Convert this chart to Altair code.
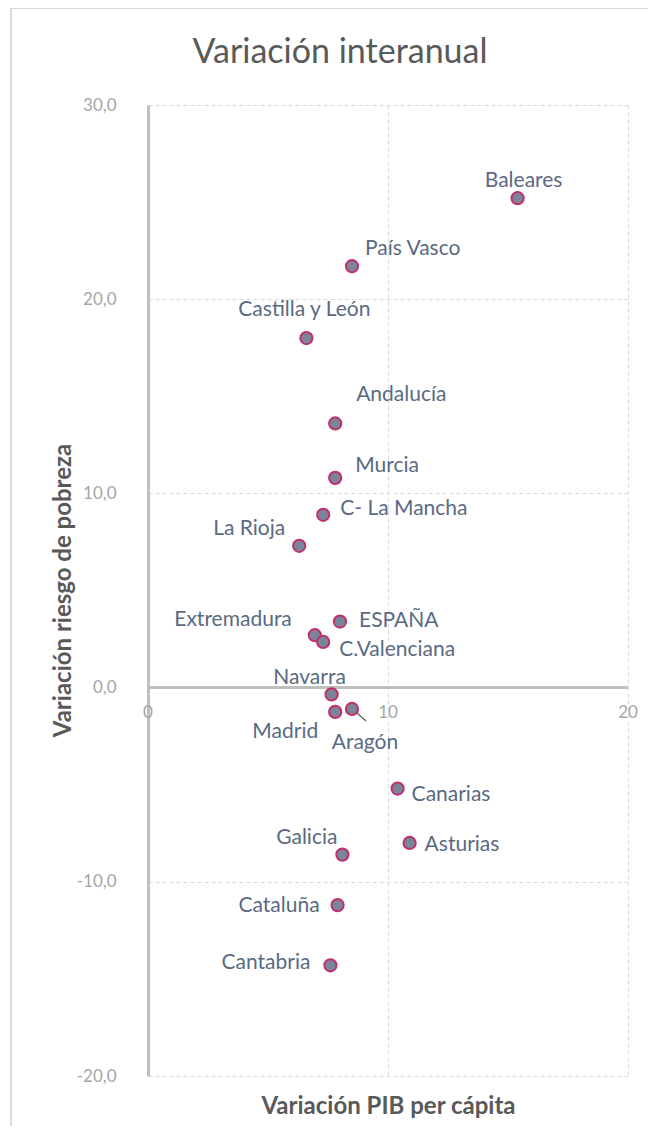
import altair as alt
import pandas as pd

# ---- data ----
regions = ["Baleares", "País Vasco", "Castilla y León", "Andalucía", "Murcia",
           "C- La Mancha", "La Rioja", "ESPAÑA", "Extremadura", "C.Valenciana",
           "Navarra", "Madrid", "Aragón", "Canarias", "Asturias", "Galicia",
           "Cataluña", "Cantabria"]
pib_var = [15.4, 8.5, 6.6, 7.8, 7.8, 7.3, 6.3, 8.0, 6.95, 7.3,
           7.65, 7.8, 8.5, 10.4, 10.9, 8.1, 7.9, 7.6]
pobreza_var = [25.2, 21.7, 18.0, 13.6, 10.8, 8.9, 7.3, 3.4, 2.7, 2.35,
               -0.35, -1.25, -1.1, -5.2, -8.0, -8.6, -11.2, -14.3]

# label placement (pixel offsets of each data label relative to its point)
label_align = ["center", "left", "center", "left", "left", "left", "right", "left",
               "right", "left", "center", "right", "center", "left", "left",
               "right", "right", "right"]
label_dx = [6, 13, -2, 21, 20, 17, -14, 19, -23, 16, -22, -17, 13, 14, 15, -5, -18, -20]
label_dy = [-17, -17, -28, -28, -12, -6, -17, -1, -15, 8, -16, 20, 34, 6, 2, -17, 1, -2]

x_ticks = [0, 10, 20]
y_ticks = [-20, -10, 0, 10, 20, 30]

df = pd.DataFrame({"region": regions, "pib": pib_var, "pobreza": pobreza_var})
ticks_df = pd.DataFrame({"xv": x_ticks, "yv": [0] * len(x_ticks),
                         "lab": [str(v) for v in x_ticks]})
zero_df = pd.DataFrame({"yv": [0], "x0": [0], "x1": [20]})

FONT = "Lato"
LABEL_COLOR = "#5A6A82"
GRID = "#D9D9D9"
AXIS = "#BFBFBF"

xscale = alt.Scale(domain=[0, 20], nice=False, zero=False)
yscale = alt.Scale(domain=[-20, 30], nice=False, zero=False)

x_enc = alt.X("pib:Q", scale=xscale,
              axis=alt.Axis(title="Variación PIB per cápita", values=x_ticks,
                            labels=False, ticks=False, domain=False,
                            grid=True, gridColor=GRID, gridDash=[4, 3], gridWidth=1,
                            titleFont=FONT, titleFontSize=24, titleFontWeight="bold",
                            titleColor="#595959", titlePadding=18))
y_enc = alt.Y("pobreza:Q", scale=yscale,
              axis=alt.Axis(title="Variación riesgo de pobreza", values=y_ticks,
                            labelExpr="replace(replace(format(datum.value, '.1f'), '.', ','), '\u2212', '-')",
                            ticks=False, domain=True, domainColor=AXIS, domainWidth=3,
                            grid=True, gridColor=GRID, gridDash=[4, 3], gridWidth=1,
                            labelFont=FONT, labelFontSize=17, labelColor="#A6A6A6",
                            labelPadding=32,
                            titleFont=FONT, titleFontSize=24, titleFontWeight="bold",
                            titleColor="#595959", titleAngle=270, titleX=-85, titleY=485,
                            titleAlign="center", titleBaseline="middle"))

base = alt.Chart(df)

frame = alt.Chart(alt.Data(values=[{"a": 1}])).mark_rect(
    fill="transparent", stroke="#D9D9D9", strokeWidth=2
).encode(x=alt.value(-137), x2=alt.value(700), y=alt.value(-97), y2=alt.value(1100))

points = base.mark_point(filled=True, size=150, fill="#7A8599", stroke="#C0306A",
                         strokeWidth=2, opacity=1).encode(x=x_enc, y=y_enc)

zero_line = alt.Chart(zero_df).mark_rule(color=AXIS, strokeWidth=3).encode(
    x=alt.X("x0:Q", scale=xscale), x2="x1:Q", y=alt.Y("yv:Q", scale=yscale))

xlabels = alt.Chart(ticks_df).mark_text(font=FONT, fontSize=17, color="#A6A6A6",
                                        dy=25, align="center", baseline="middle").encode(
    x=alt.X("xv:Q", scale=xscale), y=alt.Y("yv:Q", scale=yscale), text="lab:N")

leader = base.transform_filter(alt.datum.region == "Aragón").mark_point(
    shape="M0.2,0.15L1,0.86", size=784, filled=False, stroke="#595959", strokeWidth=1.2,
    opacity=1).encode(x=alt.X("pib:Q", scale=xscale), y=alt.Y("pobreza:Q", scale=yscale))

label_layers = []
for name, al, ddx, ddy in zip(regions, label_align, label_dx, label_dy):
    label_layers.append(
        base.transform_filter(alt.datum.region == name).mark_text(
            font=FONT, fontSize=21, color=LABEL_COLOR, align=al, baseline="middle",
            dx=ddx, dy=ddy
        ).encode(
            x=alt.X("pib:Q", scale=xscale), y=alt.Y("pobreza:Q", scale=yscale),
            text="region:N")
    )

chart = alt.layer(frame, zero_line, xlabels, leader, points, *label_layers).properties(
    width=480, height=971,
    title=alt.TitleParams("Variación interanual", font=FONT, fontSize=34,
                          fontWeight="normal", color="#595959", anchor="middle",
                          frame="group", dx=-48, offset=-63),
    autosize=alt.AutoSizeParams(type="none"),
    padding={"left": 140, "top": 97, "right": 20, "bottom": 50},
).configure_view(stroke=None)

chart.save("out.html", embed_options={"renderer": "svg", "actions": False})
